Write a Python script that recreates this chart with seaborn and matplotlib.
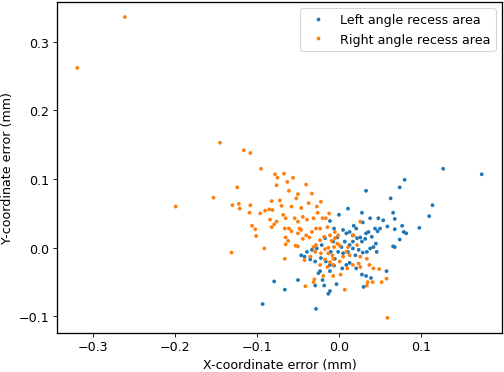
import numpy as np
import pandas as pd
import seaborn as sns
import matplotlib.pyplot as plt

# Left angle recess area (blue)
left_x = [0.174, 0.127, 0.080, 0.074, 0.033, 0.063, 0.114, 0.110, 0.098, 0.066,
          0.068, 0.077, 0.079, 0.082, 0.059, 0.068, 0.074, 0.066, 0.068, 0.048,
          0.054, 0.050, 0.044, 0.047, 0.040, 0.045, 0.042, 0.046, 0.038, 0.011,
          0.028, 0.000, 0.029, 0.018, 0.021, 0.013, 0.005, 0.009, 0.033, 0.036,
          0.026, 0.032, 0.028, 0.022, 0.017, 0.013, 0.017, 0.024, 0.029, 0.034,
          0.020, 0.007, 0.003, 0.011, 0.005, -0.001, -0.005, -0.010, -0.011, -0.006,
          -0.017, -0.021, -0.027, -0.033, -0.039, -0.046, -0.042, -0.035, -0.029, -0.022,
          -0.016, -0.011, -0.006, 0.009, 0.013, 0.021, 0.028, 0.033, 0.039, 0.058,
          0.030, 0.004, -0.025, -0.023, -0.011, -0.020, -0.029, -0.018, -0.003, -0.013,
          -0.011, -0.050, -0.079, -0.066, -0.093, -0.028, 0.038, 0.017, -0.002, -0.007]
left_y = [0.107, 0.115, 0.099, 0.088, 0.083, 0.072, 0.062, 0.046, 0.029, 0.051,
          0.042, 0.032, 0.023, 0.021, 0.031, 0.027, 0.012, 0.002, 0.001, 0.043,
          0.040, 0.028, 0.028, 0.024, 0.016, 0.006, 0.001, -0.006, -0.001, 0.057,
          0.051, 0.048, 0.037, 0.032, 0.028, 0.023, 0.026, 0.021, 0.021, 0.023,
          0.015, 0.013, 0.009, 0.014, 0.009, 0.004, -0.001, -0.003, -0.007, -0.006,
          -0.011, 0.009, 0.001, -0.006, -0.008, -0.006, -0.016, -0.006, 0.039, 0.028,
          0.014, 0.004, -0.001, -0.003, -0.006, -0.011, -0.013, -0.017, -0.020, -0.015,
          -0.020, -0.025, -0.026, -0.025, -0.022, -0.030, -0.039, -0.041, -0.044, -0.034,
          -0.057, -0.030, -0.037, -0.034, -0.034, -0.047, -0.055, -0.055, -0.053, -0.067,
          -0.063, -0.047, -0.049, -0.061, -0.082, -0.089, 0.043, 0.018, 0.015, 0.009]

# Right angle recess area (orange)
right_x = [-0.261, -0.319, -0.145, -0.116, -0.108, -0.095, -0.199, -0.153, -0.124, -0.130,
           -0.122, -0.121, -0.108, -0.109, -0.106, -0.102, -0.101, -0.131, -0.091, -0.078,
           -0.075, -0.076, -0.067, -0.063, -0.056, -0.061, -0.050, -0.052, -0.040, -0.033,
           -0.022, -0.082, -0.072, -0.096, -0.090, -0.085, -0.081, -0.070, -0.068, -0.058,
           -0.046, -0.037, -0.027, -0.084, -0.079, -0.076, -0.065, -0.054, -0.050, -0.048,
           -0.044, -0.039, -0.031, -0.026, -0.020, -0.016, -0.012, -0.082, -0.066, -0.061,
           -0.058, -0.050, -0.046, -0.040, -0.033, -0.028, -0.023, -0.014, -0.065, -0.062,
           -0.065, -0.053, -0.050, -0.044, -0.036, -0.031, -0.028, -0.023, -0.018, -0.011,
           -0.009, -0.005, -0.001, -0.002, 0.001, -0.006, -0.013, -0.017, -0.022, -0.029,
           -0.066, -0.042, -0.035, -0.013, -0.008, -0.017, -0.011, -0.014, -0.007, 0.001,
           0.005, 0.009, 0.011, 0.013, 0.017, 0.026, 0.024, 0.026, 0.034, 0.037,
           0.042, 0.049, 0.010, 0.002, -0.007, -0.019, -0.030, -0.031, -0.041, 0.007,
           0.034, 0.035, 0.041, 0.052, 0.058, 0.059, 0.026, -0.005, -0.007, -0.023,
           0.022, 0.018]
right_y = [0.336, 0.262, 0.153, 0.142, 0.138, 0.115, 0.060, 0.073, 0.088, 0.062,
           0.064, 0.057, 0.062, 0.051, 0.032, 0.027, 0.017, -0.007, -0.001, 0.107,
           0.102, 0.091, 0.108, 0.096, 0.102, 0.083, 0.078, 0.072, 0.092, 0.079,
           0.067, 0.068, 0.069, 0.050, 0.054, 0.056, 0.055, 0.061, 0.048, 0.060,
           0.058, 0.065, 0.060, 0.041, 0.034, 0.038, 0.043, 0.043, 0.038, 0.028,
           0.045, 0.041, 0.043, 0.051, 0.043, 0.043, 0.050, 0.030, 0.028, 0.028,
           0.024, 0.021, 0.026, 0.018, 0.023, 0.028, 0.028, 0.030, 0.015, 0.010,
           0.005, 0.003, 0.002, 0.013, 0.015, 0.001, 0.004, 0.011, 0.016, 0.018,
           0.010, 0.014, 0.018, 0.006, 0.003, 0.001, 0.000, -0.002, -0.008, -0.006,
           -0.016, -0.018, -0.013, -0.008, -0.011, -0.017, -0.021, -0.028, -0.025, -0.020,
           -0.013, -0.006, 0.001, -0.011, -0.025, -0.013, -0.023, -0.028, -0.016, -0.025,
           -0.030, -0.031, -0.030, -0.039, -0.041, -0.041, -0.046, -0.050, -0.056, -0.061,
           -0.055, -0.050, -0.050, -0.050, -0.045, -0.102, 0.038, 0.023, -0.016, -0.025,
           0.004, 0.018]

series_names = ["Left angle recess area", "Right angle recess area"]
colors = ["#1f77b4", "#ff7f0e"]

df = pd.concat([
    pd.DataFrame({"x": left_x, "y": left_y, "area": series_names[0]}),
    pd.DataFrame({"x": right_x, "y": right_y, "area": series_names[1]}),
])

plt.rcParams["font.size"] = 11.5
plt.rcParams["axes.linewidth"] = 1.2

fig, ax = plt.subplots(figsize=(6.4, 4.727), dpi=78.9)
sns.scatterplot(data=df, x="x", y="y", hue="area", palette=colors,
                s=12, linewidth=0, ax=ax)
sns.move_legend(ax, "upper right", title=None, fontsize=11.5)
ax.set_xlabel("X-coordinate error (mm)")
ax.set_ylabel("Y-coordinate error (mm)")
ax.set_xticks([-0.3, -0.2, -0.1, 0.0, 0.1])
ax.set_yticks([-0.1, 0.0, 0.1, 0.2, 0.3])
plt.subplots_adjust(left=0.113, right=0.994, top=0.992, bottom=0.105)
plt.savefig("out.png")
